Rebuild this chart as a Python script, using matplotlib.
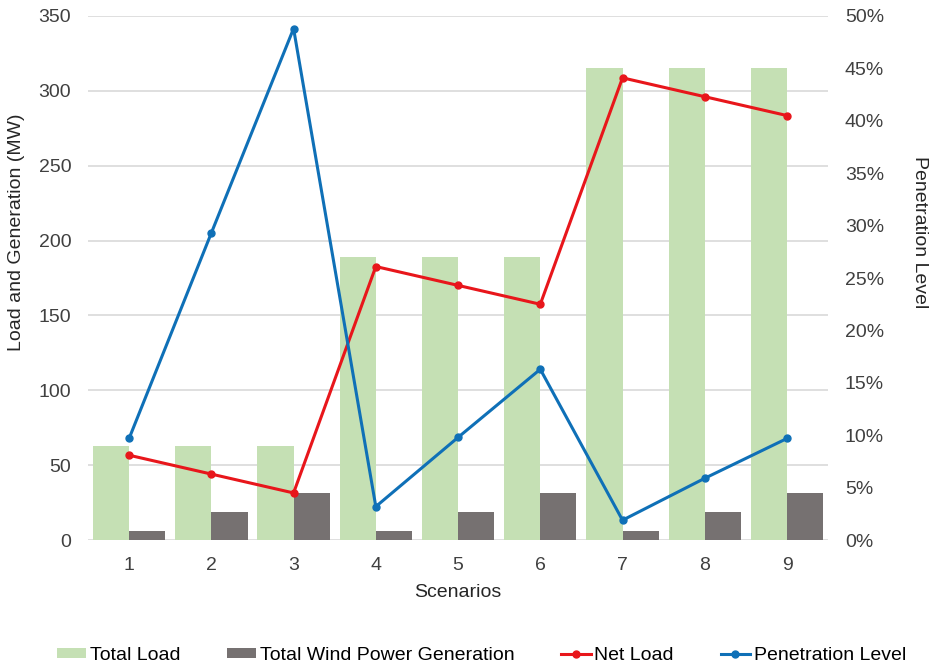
import numpy as np
import matplotlib.pyplot as plt
from matplotlib.ticker import PercentFormatter

plt.rcParams['font.family'] = ['Liberation Sans', 'DejaVu Sans']

# data
scenarios = ['1', '2', '3', '4', '5', '6', '7', '8', '9']
total_load = [63, 63, 63, 189, 189, 189, 315, 315, 315]
wind_gen = [6.3, 18.9, 31.5, 6.3, 18.9, 31.5, 6.3, 18.9, 31.5]
net_load = [56.7, 44.1, 31.5, 182.7, 170.1, 157.5, 308.7, 296.1, 283.5]
penetration = [9.7, 29.3, 48.8, 3.2, 9.8, 16.3, 1.9, 5.9, 9.7]

green = '#C5E0B4'
grey = '#767171'
red = '#E8161B'
blue = '#0F70B7'
grid = '#D9D9D9'
fs = 14

fig = plt.figure(figsize=(9.31, 6.66), dpi=100)
ax = fig.add_axes([0.0945, 0.189, 0.795, 0.787])
ax2 = ax.twinx()

x = np.arange(1, len(scenarios) + 1)
w = 0.44
b1 = ax.bar(x - w / 2, total_load, w, color=green, label='Total Load', zorder=2)
b2 = ax.bar(x + w / 2, wind_gen, w, color=grey, label='Total Wind Power Generation', zorder=2)
l1, = ax.plot(x, net_load, color=red, lw=2.2, marker='o', ms=5, label='Net Load', zorder=3)
l2, = ax2.plot(x, penetration, color=blue, lw=2.2, marker='o', ms=5, label='Penetration Level', zorder=3)

ax.set_xlim(0.5, 9.5)
ax.set_ylim(0, 350)
ax.set_yticks(np.arange(0, 351, 50))
ax2.set_ylim(0, 50)
ax2.set_yticks(np.arange(0, 51, 5))
ax2.yaxis.set_major_formatter(PercentFormatter(decimals=0))
ax.set_xticks(x)
ax.set_xticklabels(scenarios)

ax.yaxis.grid(True, color=grid, lw=1.2, zorder=0)
ax.set_axisbelow(True)
for a in (ax, ax2):
    for s in a.spines.values():
        s.set_visible(False)
    a.tick_params(length=0, labelsize=fs, colors='#404040')
ax.tick_params(axis='y', pad=12)
ax.tick_params(axis='x', pad=12)
ax2.tick_params(axis='y', pad=12)

ax.set_xlabel('Scenarios', fontsize=fs, color='#262626', labelpad=7)
ax.set_ylabel('Load and Generation (MW)', fontsize=fs, color='#262626')
ax2.set_ylabel('Penetration Level', fontsize=fs, color='#262626', rotation=270)
ax.yaxis.set_label_coords(-0.085, 0.588)
ax2.yaxis.set_label_coords(1.135, 0.588)

fig.legend([b1, b2, l1, l2],
           ['Total Load', 'Total Wind Power Generation', 'Net Load', 'Penetration Level'],
           loc='center', bbox_to_anchor=(0.517, 0.016), ncol=4, frameon=False,
           fontsize=fs, handlelength=1.5, handleheight=0.45, handletextpad=0.2,
           columnspacing=2.4)

fig.savefig('out.png', dpi=100)
